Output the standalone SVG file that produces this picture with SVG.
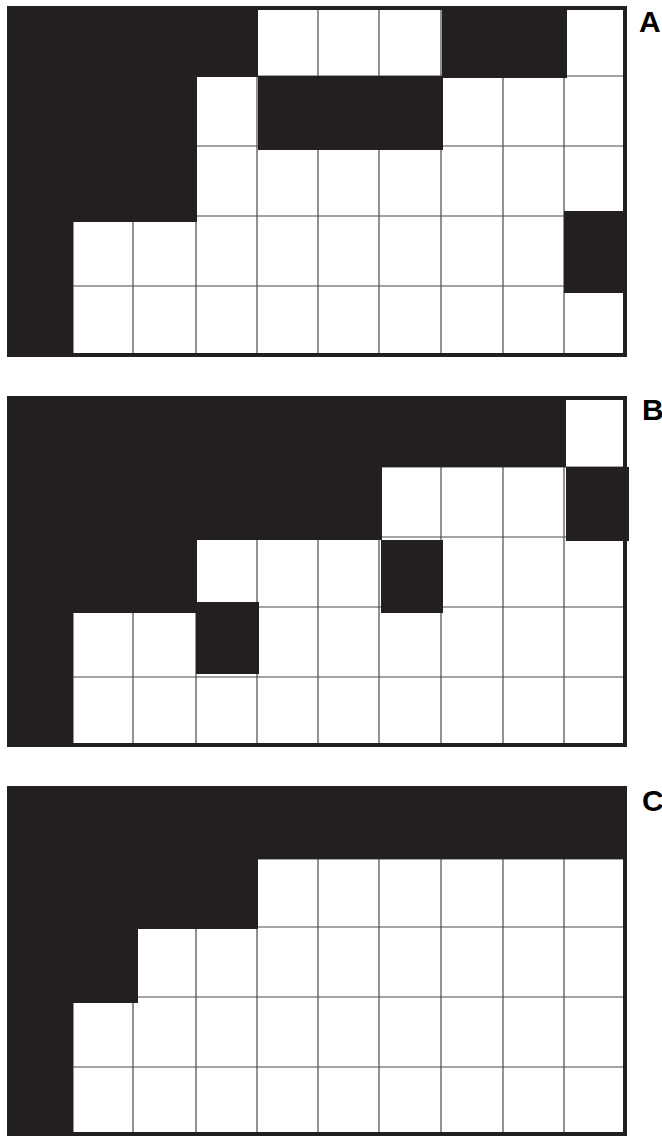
<svg xmlns="http://www.w3.org/2000/svg" width="662" height="1137" viewBox="0 0 662 1137">
<style>
.bg{fill:#ffffff}
.grid{stroke:#4a4a4a;stroke-width:1.2;fill:none}
.blk{fill:#231f20}
.border{fill:none;stroke:#231f20;stroke-width:4}
.lbl{font-family:"Liberation Sans",Arial,sans-serif;font-weight:bold;font-size:30px;fill:#000000}
</style>
<rect width="662" height="1137" fill="#ffffff"/>

<g id="gridA">
<rect class="bg" x="7" y="6" width="620" height="351"/>
<path class="grid" d="M73,6V357M133,6V357M196,6V357M257,6V357M318,6V357M379,6V357M441,6V357M503,6V357M564,6V357M7,76H627M7,146H627M7,216H627M7,286H627"/>
<path class="blk" d="M7,6H258V77H197V222H73V357H7Z"/>
<rect class="blk" x="442" y="6" width="125" height="72"/>
<rect class="blk" x="258" y="76" width="185" height="74"/>
<rect class="blk" x="564" y="211" width="63" height="82"/>
<rect class="border" x="9" y="8" width="616" height="347"/>
<text class="lbl" x="639" y="32">A</text>
</g>

<g id="gridB">
<rect class="bg" x="7" y="396" width="620" height="351"/>
<path class="grid" d="M73,396V747M133,396V747M196,396V747M257,396V747M318,396V747M379,396V747M441,396V747M503,396V747M564,396V747M7,467H627M7,537H627M7,607H627M7,677H627"/>
<path class="blk" d="M7,396H566V467H382V540H197V613H73V747H7Z"/>
<rect class="blk" x="566" y="467" width="63" height="74"/>
<rect class="blk" x="381" y="540" width="62" height="73"/>
<rect class="blk" x="196" y="602" width="63" height="72"/>
<rect class="border" x="9" y="398" width="616" height="347"/>
<text class="lbl" x="642" y="420">B</text>
</g>

<g id="gridC">
<rect class="bg" x="7" y="786" width="620" height="350"/>
<path class="grid" d="M73,786V1136M133,786V1136M196,786V1136M257,786V1136M318,786V1136M379,786V1136M441,786V1136M503,786V1136M564,786V1136M7,859H627M7,927H627M7,997H627M7,1067H627"/>
<path class="blk" d="M7,786H627V859H258V929H138V1003H73V1136H7Z"/>
<rect class="border" x="9" y="788" width="616" height="346"/>
<text class="lbl" x="642" y="811">C</text>
</g>
</svg>
